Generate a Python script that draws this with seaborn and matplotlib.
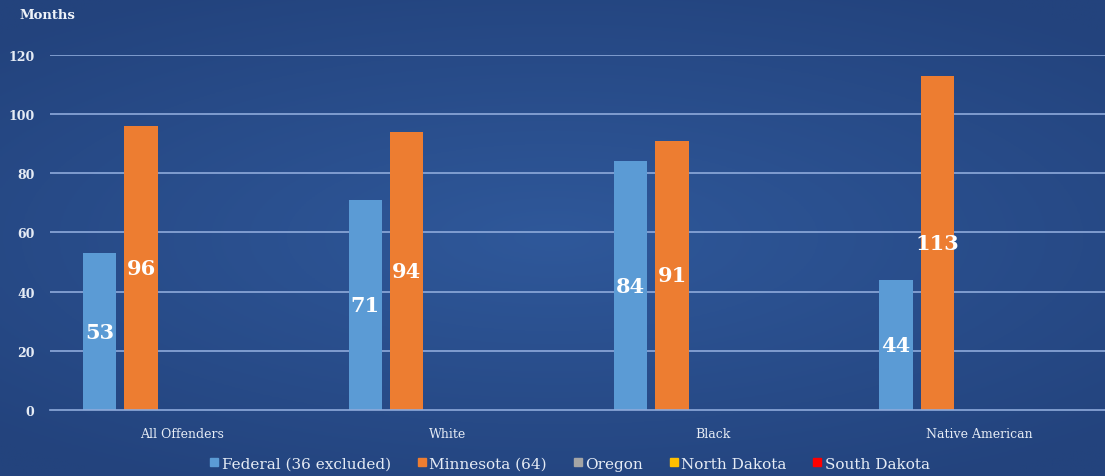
import matplotlib
matplotlib.use('Agg')

import numpy as np
import pandas as pd
import matplotlib.pyplot as plt
import seaborn as sns
from matplotlib.lines import Line2D

# data (months)
groups = ['All Offenders', 'White', 'Black', 'Native American']
series = ['Federal (36 excluded)', 'Minnesota (64)', 'Oregon', 'North Dakota', 'South Dakota']
federal = [53, 71, 84, 44]
minnesota = [96, 94, 91, 113]
colors = ['#5b9bd5', '#ed7d31', '#a5a5a5', '#ffc000', '#ff0000']

rows = []
for i, g in enumerate(groups):
    rows.append((g, series[0], federal[i]))
    rows.append((g, series[1], minnesota[i]))
df = pd.DataFrame(rows, columns=['group', 'series', 'months'])

sns.set_style('white')
plt.rcParams['font.family'] = ['DejaVu Serif']

fig = plt.figure(figsize=(11.05, 4.77), dpi=100)

# background: soft radial gradient in dark blue
bg = fig.add_axes([0, 0, 1, 1], zorder=-10)
yy, xx = np.mgrid[-1:1:200j, -1:1:400j]
r = np.sqrt((xx * 0.9) ** 2 + (yy * 1.1) ** 2)
c_in = np.array([0x2f, 0x58, 0x9a]) / 255
c_out = np.array([0x23, 0x43, 0x7d]) / 255
t = np.clip(r / 1.3, 0, 1)[..., None]
bg.imshow(c_in * (1 - t) + c_out * t, aspect='auto', extent=[0, 1, 0, 1])
bg.axis('off')

ax = fig.add_axes([0.045, 0.138, 0.961, 0.745])
ax.patch.set_alpha(0)

sns.barplot(data=df, x='group', y='months', hue='series', hue_order=series,
            order=groups, palette=colors, width=0.78, gap=0.2,
            saturation=1, legend=False, linewidth=0, ax=ax)

ax.set_xlim(-0.5, 3.5)
ax.set_ylim(0, 120)
ax.set_yticks(range(0, 121, 20))
grid_c = '#8eaadb'
for v in range(20, 121, 20):
    ax.axhline(v, color=grid_c, lw=1.2, zorder=0)
for s in ['top', 'right', 'left']:
    ax.spines[s].set_visible(False)
ax.spines['bottom'].set_color(grid_c)
ax.spines['bottom'].set_linewidth(1.2)

ax.set_xlabel('')
ax.set_ylabel('')
ax.set_xticks(range(len(groups)))
ax.set_xticklabels(groups, fontsize=9, color='#e6ecf5')
ax.set_xticks(np.arange(-0.5, 3.6, 1), minor=True)
ax.tick_params(axis='x', which='major', length=0, pad=12)
ax.tick_params(axis='x', which='minor', length=4, color=grid_c, width=1)
ax.tick_params(axis='y', length=0, pad=11, labelsize=9, labelcolor='#e6ecf5')
for lab in ax.get_yticklabels():
    lab.set_fontweight('bold')

# value labels, centred in each bar
for cont in ax.containers:
    for bar in cont:
        h = bar.get_height()
        if np.isnan(h) or h == 0:
            continue
        ax.text(bar.get_x() + bar.get_width() / 2, h / 2, f'{int(h)}',
                ha='center', va='center', color='white', fontsize=15,
                fontweight='bold')

fig.text(0.018, 0.967, 'Months', fontsize=9.5, fontweight='bold', color='#eef2f8',
         va='center')

handles = [Line2D([], [], marker='s', ls='', color=c, markersize=6) for c in colors]
leg = fig.legend(handles, series, loc='lower center', bbox_to_anchor=(0.515, -0.018),
                 ncol=5, frameon=False, fontsize=11, handletextpad=0.1,
                 columnspacing=1.6, handlelength=0.8, labelcolor='#e6ecf5')

fig.savefig('out.png', dpi=100)
